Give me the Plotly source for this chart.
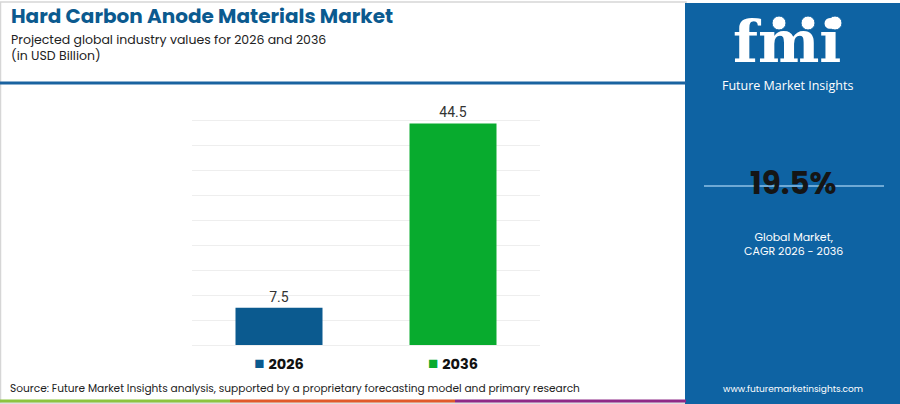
import plotly.graph_objects as go

# data
years = ["2026", "2036"]
values = [7.5, 44.5]
bar_colors = ["#0b5a8f", "#08ab2e"]
tick_labels = [
    "<span style='color:#0b5a8f;font-size:17px'>■</span> <b>2026</b>",
    "<span style='color:#08ab2e;font-size:17px'>■</span> <b>2036</b>",
]
cagr = "19.5%"

W, H = 900, 404
L, R, T, B = 192, 360, 96, 59
pw, ph = W - L - R, H - T - B


def px(x):
    return (x - L) / pw


def py(y):
    return (H - B - y) / ph


fig = go.Figure()
fig.add_trace(go.Bar(
    x=years, y=values, marker=dict(color=bar_colors, line=dict(width=0)),
    width=0.5, text=[str(v) for v in values], textposition="outside",
    textfont=dict(family="Roboto, Arial", size=14, color="#333333"),
    cliponaxis=False, hoverinfo="skip",
))

shapes = [
    # outer frame of left region
    dict(type="rect", xref="paper", yref="paper", x0=px(0.5), x1=px(686), y0=py(2), y1=py(403),
         line=dict(color="#d6d6d6", width=1.5), fillcolor="rgba(0,0,0,0)", layer="below"),
    # blue header rule
    dict(type="line", xref="paper", yref="paper", x0=px(0), x1=px(686), y0=py(83), y1=py(83),
         line=dict(color="#1a63a0", width=3)),
    # bottom colour strip
    dict(type="line", xref="paper", yref="paper", x0=px(0), x1=px(230), y0=py(401), y1=py(401),
         line=dict(color="#8cc43f", width=3)),
    dict(type="line", xref="paper", yref="paper", x0=px(230), x1=px(455), y0=py(401), y1=py(401),
         line=dict(color="#e0592a", width=3)),
    dict(type="line", xref="paper", yref="paper", x0=px(455), x1=px(686), y0=py(401), y1=py(401),
         line=dict(color="#8e2a87", width=3)),
    # right panel
    dict(type="rect", xref="paper", yref="paper", x0=px(685), x1=px(900), y0=py(3), y1=py(404),
         line=dict(width=0), fillcolor="#0e63a3", layer="below"),
    # cagr rule
    dict(type="line", xref="paper", yref="paper", x0=px(704), x1=px(884), y0=py(186), y1=py(186),
         line=dict(color="#8fc1e6", width=1.5)),
]
# logo globe icons
for cx in [779, 808, 835]:
    shapes.append(dict(type="circle", xref="paper", yref="paper",
                       x0=px(cx - 7), x1=px(cx + 7), y0=py(16), y1=py(30),
                       line=dict(color="#0e63a3", width=1), fillcolor="white"))

annotations = [
    dict(text="<b>Hard Carbon Anode Materials Market</b>", x=px(9), y=py(15.5),
         font=dict(family="Poppins, Open Sans, Arial", size=20, color="#0b5a8f")),
    dict(text="Projected global industry values for 2026 and 2036<br>(in USD Billion)", x=px(9), y=py(47.5),
         align="left",
         font=dict(family="Poppins, Open Sans, Arial", size=12.5, color="#222222")),
    dict(text="Source: Future Market Insights analysis, supported by a proprietary forecasting model and primary research",
         x=px(8), y=py(388), font=dict(family="Poppins, Open Sans, Arial", size=10.6, color="#222222")),
]
for a in annotations:
    a.update(xref="paper", yref="paper", xanchor="left", yanchor="middle", showarrow=False)

panel_text = [
    dict(text="<b>fmi</b>", x=px(787), y=py(78), yanchor="bottom",
         font=dict(family="DejaVu Serif", size=58, color="white")),
    dict(text="Future Market Insights", x=px(787), y=py(86),
         font=dict(family="Open Sans, Arial", size=12.5, color="white")),
    dict(text="<b>" + cagr + "</b>", x=px(793), y=py(183),
         font=dict(family="Poppins, Open Sans, Arial", size=31, color="#151515")),
    dict(text="Global Market,<br>CAGR 2026 - 2036", x=px(793), y=py(244),
         font=dict(family="Poppins, Open Sans, Arial", size=11, color="white")),
    dict(text="www.futuremarketinsights.com", x=px(793), y=py(389),
         font=dict(family="Poppins, Open Sans, Arial", size=9, color="white")),
]
for a in panel_text:
    a.setdefault("yanchor", "middle")
    a.update(xref="paper", yref="paper", xanchor="center", showarrow=False)

fig.update_layout(
    width=W, height=H, margin=dict(l=L, r=R, t=T, b=B),
    paper_bgcolor="white", plot_bgcolor="white", showlegend=False,
    shapes=shapes, annotations=annotations + panel_text,
    xaxis=dict(tickvals=years, ticktext=tick_labels, showline=False, ticks="",
               ticklabelstandoff=8,
               tickfont=dict(family="Poppins, Open Sans, Arial", size=14.5, color="#111111")),
    yaxis=dict(range=[0, 50], dtick=5, showticklabels=False, gridcolor="#eeeeee",
               gridwidth=1, zeroline=True, zerolinecolor="#eeeeee", zerolinewidth=1),
)

fig.write_html("out.html", config={"displayModeBar": False},
               post_script="document.body.style.margin='0px';")
